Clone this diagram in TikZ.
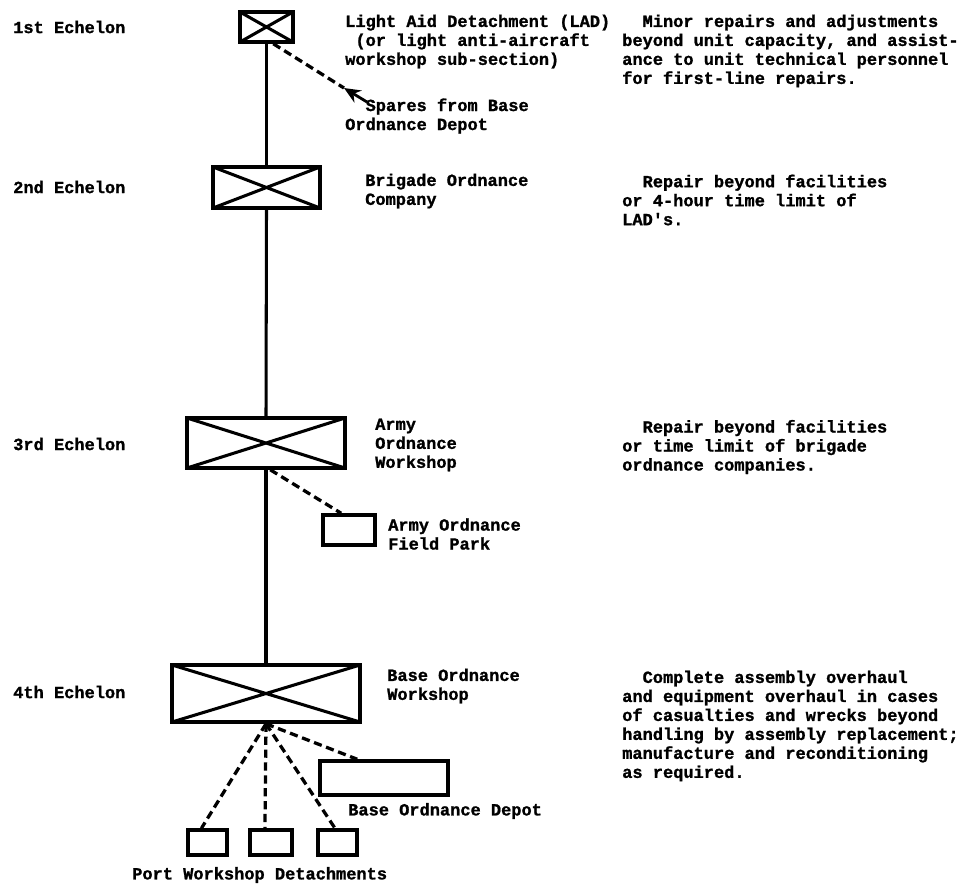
\documentclass[tikz,border=0pt]{standalone}
\usepackage{fontspec}
\setmonofont{Liberation Mono}[BoldFeatures={FakeBold=1.2}]
\usepackage{tikz}
\usetikzlibrary{arrows.meta}

\begin{document}
\begin{tikzpicture}[x=0.03cm, y=-0.03cm, >=Stealth,
  every node/.style={font=\ttfamily\bfseries\fontsize{14.5}{16.2}\selectfont, inner sep=0pt},
  txt/.style={anchor=west, align=left},
  unitbox/.style={draw, line width=3pt},
  crossed/.style={path picture={\draw[line width=2.6pt]
      (path picture bounding box.north west) -- (path picture bounding box.south east)
      (path picture bounding box.south west) -- (path picture bounding box.north east);}},
  trunk/.style={line width=2.6pt},
  dashline/.style={line width=2.8pt, dash pattern=on 7pt off 4pt}]
  \useasboundingbox (0,0) rectangle (970,883);

  % Echelons
  \node[txt] (ech1) at (13,27) {1st Echelon};
  \node[txt] (ech2) at (13,187) {2nd Echelon};
  \node[txt] (ech3) at (13,444) {3rd Echelon};
  \node[txt] (ech4) at (13,692) {4th Echelon};

  % Units
  \node[unitbox, crossed, minimum width=1.59cm, minimum height=0.9cm] (lad) at (266.5,27) {};
  \node[unitbox, crossed, minimum width=3.21cm, minimum height=1.23cm] (brig) at (266.5,187.5) {};
  \node[unitbox, crossed, minimum width=4.74cm, minimum height=1.5cm] (aow) at (266,443) {};
  \node[unitbox, crossed, minimum width=5.64cm, minimum height=1.71cm] (bow) at (266,693.5) {};
  \node[unitbox, minimum width=1.56cm, minimum height=0.9cm] (aofp) at (349,530) {};
  \node[unitbox, minimum width=3.84cm, minimum height=1.02cm] (bod) at (384,778) {};
  \node[unitbox, minimum width=1.17cm, minimum height=0.75cm] (port1) at (207.5,842.5) {};
  \node[unitbox, minimum width=1.26cm, minimum height=0.75cm] (port2) at (271,842.5) {};
  \node[unitbox, minimum width=1.17cm, minimum height=0.75cm] (port3) at (337.5,842.5) {};

  % Chain of repair
  \draw[trunk] (lad.south) -- (brig.north);
  \draw[trunk] (brig.south) -- (aow.north);
  \draw[trunk] (aow.south) -- (bow.north);

  % Spares
  \coordinate (sparetip) at (344,88);
  \coordinate (sparetail) at (367,102);
  \draw[dashline] (lad.-68) -- (sparetip);
  \draw[line width=2.4pt, -{Stealth[length=14pt, width=12pt]}] (sparetail) -- (sparetip);
  \draw[dashline] (aow.-81) -- (aofp.115);
  \draw[dashline] (bow.south) -- (bod.145);
  \draw[dashline] (bow.south) -- (port1.113);
  \draw[dashline] (bow.south) -- (port2.113);
  \draw[dashline] (bow.south) -- (port3.100);

  % Unit names
  \node[txt] (ladname) at (345,41.5) {Light Aid Detachment (LAD)\\\phantom{x}(or light anti-aircraft\\workshop sub-section)};
  \node[txt] (sparename) at (345,116) {\phantom{xx}Spares from Base\\Ordnance Depot};
  \node[txt] (brigname) at (365,191) {Brigade Ordnance\\Company};
  \node[txt] (aowname) at (375,445) {Army\\Ordnance\\Workshop};
  \node[txt] (aofpname) at (388,534) {Army Ordnance\\Field Park};
  \node[txt] (bowname) at (387,686) {Base Ordnance\\Workshop};
  \node[txt] (bodname) at (348,811) {Base Ordnance Depot};
  \node[txt] (portname) at (132,875) {Port Workshop Detachments};

  % Tasks
  \node[txt] (task1) at (622,51) {\phantom{xx}Minor repairs and adjustments\\beyond unit capacity, and assist-\\ance to unit technical personnel\\for first-line repairs.};
  \node[txt] (task2) at (622,200) {\phantom{xx}Repair beyond facilities\\or 4-hour time limit of\\LAD's.};
  \node[txt] (task3) at (622,447) {\phantom{xx}Repair beyond facilities\\or time limit of brigade\\ordnance companies.};
  \node[txt] (task4) at (622,726) {\phantom{xx}Complete assembly overhaul\\and equipment overhaul in cases\\of casualties and wrecks beyond\\handling by assembly replacement;\\manufacture and reconditioning\\as required.};
\end{tikzpicture}
\end{document}
